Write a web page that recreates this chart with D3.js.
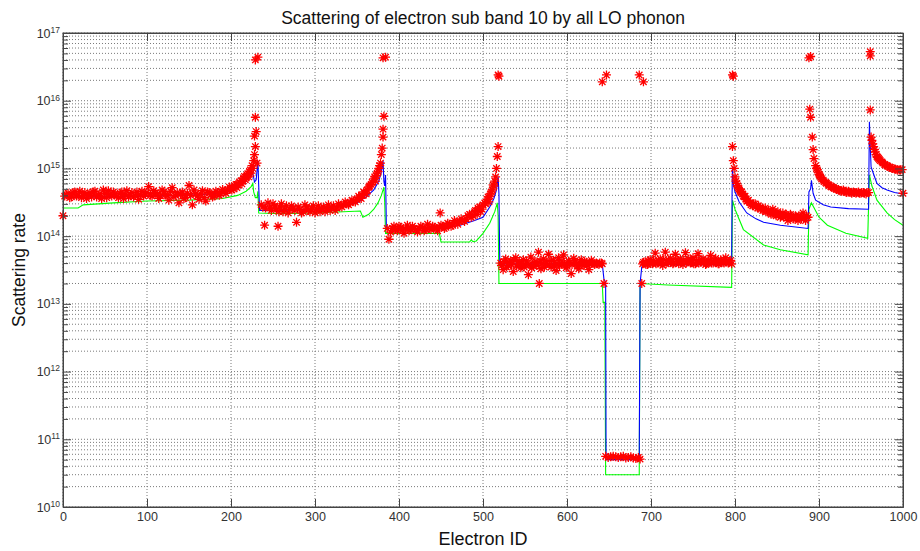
<!DOCTYPE html>
<html><head><meta charset="utf-8">
<script src="https://cdn.jsdelivr.net/npm/d3@7"></script>
<style>
body{margin:0;background:#fff;}
text{font-family:"Liberation Sans",Arial,sans-serif;}
</style>
</head><body>
<svg id="chart" width="920" height="551"></svg>
<script>
// ---------- data ----------
const chartTitle = "Scattering of electron sub band 10 by all LO phonon";
const xLabel = "Electron ID";
const yLabel = "Scattering rate";
const xTicks = [0,100,200,300,400,500,600,700,800,900,1000];
const yDecadeExps = [10,11,12,13,14,15,16,17];

// blue line: [electron ID, rate]
const blueLine = [[0,3.7e14],[40,3.8e14],[100,3.9e14],[150,4.0e14],[185,4.3e14],[200,4.8e14],[210,5.6e14],[218,6.6e14],[223,7.6e14],[226,8.5e14],[228,6.3e14],[230,6.8e14],[232,1.3e15],[233,5.5e14],[234,2.4e14],[260,2.4e14],[300,2.5e14],[330,2.8e14],[350,3.1e14],[362,3.9e14],[370,4.8e14],[376,6.5e14],[379,9e14],[381,1.3e15],[382,6.5e14],[383,5.5e14],[384,8e14],[385,1.3e14],[420,1.3e14],[450,1.35e14],[473,1.45e14],[490,1.7e14],[500,1.9e14],[508,2.7e14],[513,3.6e14],[516,4.8e14],[518,7.5e14],[519,4.2e14],[520,3.9e13],[600,3.9e13],[642,3.9e13],[644,2.3e13],[646,2.1e13],[646.5,5e10],[686,5e10],[687,2e13],[689,3.5e13],[700,3.8e13],[796,3.8e13],[796.5,4e14],[797,1.05e15],[798,6e14],[800,4.5e14],[805,3.2e14],[814,2.2e14],[825,1.8e14],[834,1.6e14],[854,1.45e14],[887,1.3e14],[888,4.5e14],[890,5e14],[891,6.7e14],[893,4.3e14],[896,3.4e14],[905,2.9e14],[914,2.7e14],[935,2.55e14],[959,2.5e14],[960,4.9e15],[961,2.2e15],[962,1.05e15],[966,7.6e14],[969,6e14],[975,5.2e14],[981,4.8e14],[990,4.4e14],[1000,4.2e14]];

// green line: [electron ID, rate]
const greenLine = [[0,2.6e14],[18,2.6e14],[24,2.9e14],[60,3.1e14],[100,3.3e14],[150,3.4e14],[190,3.6e14],[208,4.0e14],[218,4.6e14],[224,5.4e14],[226,6.0e14],[227,4.5e14],[229,3.7e14],[231,3.7e14],[232,4.6e14],[233,2.2e14],[260,2.15e14],[300,2.2e14],[354,2.35e14],[357,1.9e14],[364,2.1e14],[370,2.5e14],[375,3.1e14],[379,4.0e14],[382,5.3e14],[383,3.2e14],[384,1.1e14],[448,1.1e14],[450,8.2e13],[484,8.2e13],[486,8.8e13],[488,8.3e13],[492,8.5e13],[500,1.1e14],[508,1.55e14],[514,2.3e14],[517,3.1e14],[518,2.0e14],[519,2.0e13],[642,2.0e13],[643,1.05e13],[645,1.05e13],[646,3e10],[686,3e10],[687,2.0e13],[720,1.9e13],[796,1.75e13],[797,3.4e14],[800,2.5e14],[810,1.25e14],[834,7.4e13],[854,6.3e13],[887,5.3e13],[888,2.5e14],[891,3.1e14],[895,2.5e14],[900,1.9e14],[910,1.45e14],[932,1.1e14],[958,9.3e13],[960,8e14],[963,5.5e14],[969,3.4e14],[981,2.2e14],[990,1.75e14],[1000,1.45e14]];

// red star markers: [electron ID, rate]
const redPoints = [
[0,2.0e14],[2,3.9e14],[6,4.3e14],[10,3.8e14],[14,4.5e14],[18,4.0e14],[22,3.7e14],[26,4.4e14],[30,4.1e14],[34,3.8e14],[38,4.6e14],[42,4.0e14],[46,3.6e14],[50,4.3e14],[54,4.7e14],[58,3.9e14],[62,4.2e14],[66,3.7e14],[70,4.5e14],[74,4.1e14],[78,3.8e14],[82,4.4e14],[86,4.0e14],[90,3.5e14],[94,4.6e14],[98,4.2e14],[102,5.4e14],[106,3.9e14],[110,4.3e14],[114,3.6e14],[118,4.8e14],[122,4.1e14],[126,3.4e14],[130,5.2e14],[134,4.0e14],[138,3.1e14],[142,4.5e14],[146,3.7e14],[150,5.6e14],[154,2.9e14],[158,4.2e14],[162,3.5e14],[166,4.7e14],[170,3.3e14],[174,4.4e14],[178,3.8e14],[182,4.6e14],[186,4.0e14],[190,4.9e14],[194,4.3e14],[198,5.3e14],
[4,4.1e14],[8,3.7e14],[12,4.4e14],[16,3.9e14],[20,4.6e14],[24,4.0e14],[28,3.6e14],[32,4.3e14],[36,4.5e14],[40,3.8e14],[44,4.2e14],[48,4.8e14],[52,3.7e14],[56,4.1e14],[60,4.5e14],[64,3.9e14],[68,4.3e14],[72,3.6e14],[76,4.7e14],[80,4.0e14],[84,3.8e14],[88,4.5e14],[92,4.1e14],[96,3.9e14],[100,4.4e14],[104,4.0e14],[108,4.7e14],[112,4.2e14],[116,3.9e14],[120,4.5e14],[124,4.0e14],[128,4.6e14],[132,3.8e14],[136,4.4e14],[140,4.1e14],[144,3.6e14],[148,4.3e14],[152,4.0e14],[156,4.8e14],[160,3.9e14],[164,4.2e14],[168,3.7e14],[172,4.5e14],[176,4.1e14],[180,3.9e14],[184,4.4e14],[188,4.2e14],[192,4.6e14],[196,4.8e14],[200,5.1e14],[203,5.0e14],[206,5.8e14],[209,5.7e14],[212,6.6e14],[214,6.5e14],[216,7.6e14],[218,7.4e14],[220,8.4e14],[222,9.0e14],
[201,4.8e14],[204,5.6e14],[207,5.2e14],[210,6.3e14],[213,5.9e14],[215,7.2e14],[217,6.8e14],[219,8.0e14],[221,7.5e14],[223,9.5e14],[224,8.5e14],[225,1.1e15],[226,1.0e15],[227,1.3e15],[228,1.6e15],[228,3.0e15],[229,2.1e15],[229,5.7e15],[230,3.5e15],[231,1.2e15],[229,4.0e16],[232,4.4e16],
[236,2.9e14],[240,1.45e14],[241,2.6e14],[244,3.1e14],[248,2.4e14],[252,2.8e14],[256,1.4e14],[257,2.3e14],[260,3.0e14],[264,2.5e14],[268,2.2e14],[272,2.8e14],[276,2.4e14],[278,1.6e14],[280,2.7e14],[284,2.2e14],[288,2.9e14],[292,2.4e14],[296,2.6e14],[300,2.2e14],[304,2.8e14],[308,2.5e14],[312,2.3e14],[316,2.9e14],[320,2.6e14],[324,2.4e14],[328,3.0e14],[332,2.7e14],[336,3.2e14],[340,2.9e14],[344,3.4e14],[348,3.2e14],[352,3.9e14],[355,3.6e14],[358,4.5e14],[361,4.2e14],[364,5.3e14],[367,5.8e14],[370,7.0e14],[372,6.5e14],[374,8.5e14],[376,1.0e15],[378,1.2e15],[379,1.6e15],[380,2.0e15],[381,2.9e15],[381,3.8e15],[382,5.9e15],[381,4.3e16],[384,4.4e16],
[238,2.7e14],[246,2.6e14],[250,3.0e14],[254,2.5e14],[258,2.7e14],[262,2.3e14],[266,2.8e14],[270,2.5e14],[274,2.6e14],[282,2.5e14],[286,2.3e14],[290,2.7e14],[294,2.3e14],[298,2.8e14],[302,2.5e14],[306,2.3e14],[310,2.7e14],[314,2.6e14],[318,2.4e14],[322,2.8e14],[326,2.6e14],[330,2.8e14],[334,2.9e14],[338,3.0e14],[342,3.1e14],[346,3.3e14],[350,3.5e14],[353,3.7e14],[356,4.0e14],[359,4.3e14],[362,4.8e14],[365,5.5e14],[368,6.2e14],[371,7.5e14],[373,7.8e14],[375,9.0e14],[377,1.1e15],
[386,1.3e14],[388,9.0e13],[390,1.15e14],[394,1.4e14],[398,1.2e14],[402,1.35e14],[406,1.1e14],[410,1.45e14],[414,1.25e14],[418,1.3e14],[422,1.15e14],[426,1.4e14],[430,1.2e14],[434,1.5e14],[438,1.25e14],[442,1.35e14],[446,1.2e14],[449,2.2e14],[450,1.45e14],[454,1.3e14],[458,1.55e14],[462,1.4e14],[466,1.7e14],[470,1.5e14],[474,1.8e14],[478,1.65e14],[482,2.0e14],[486,1.9e14],[490,2.3e14],[493,2.1e14],[496,2.7e14],[499,2.5e14],[502,3.1e14],[505,3.5e14],[507,3.2e14],[509,4.2e14],[511,4.8e14],[512,5.7e14],[514,6.5e14],[515,7.5e14],[516,1.0e15],[517,1.5e15],[518,2.1e15],[518,2.4e16],[519,2.3e16],
[392,1.3e14],[396,1.25e14],[400,1.4e14],[404,1.2e14],[408,1.3e14],[412,1.2e14],[416,1.4e14],[420,1.25e14],[424,1.3e14],[428,1.35e14],[432,1.25e14],[436,1.3e14],[440,1.4e14],[444,1.3e14],[448,1.35e14],[452,1.4e14],[456,1.35e14],[460,1.5e14],[464,1.45e14],[468,1.6e14],[472,1.65e14],[476,1.7e14],[480,1.8e14],[484,2.1e14],[488,2.0e14],[491,2.4e14],[494,2.6e14],[497,2.3e14],[500,2.9e14],[503,3.0e14],[506,3.8e14],[508,3.9e14],[510,4.5e14],[513,5.5e14],
[521,4.0e13],[524,3.2e13],[527,4.6e13],[530,3.7e13],[533,4.3e13],[536,3.0e13],[539,4.8e13],[542,3.9e13],[545,3.4e13],[548,4.5e13],[551,3.8e13],[554,2.7e13],[557,4.9e13],[560,3.6e13],[563,4.2e13],[566,5.8e13],[567,2.0e13],[569,3.3e13],[572,4.6e13],[575,3.9e13],[578,5.4e13],[581,3.5e13],[584,4.4e13],[587,3.1e13],[590,4.8e13],[593,3.8e13],[596,5.3e13],[599,3.4e13],[602,4.3e13],[605,2.8e13],[608,4.7e13],[611,3.9e13],[614,3.3e13],[617,4.5e13],[620,3.7e13],[623,4.1e13],[626,3.2e13],[629,4.4e13],[632,3.9e13],[635,4.0e13],[638,3.8e13],[641,4.0e13],[644,2.0e13],[642,1.9e16],[647,2.4e16],
[522,3.7e13],[525,4.2e13],[528,3.5e13],[531,4.1e13],[534,3.8e13],[537,4.4e13],[540,3.6e13],[543,4.2e13],[546,3.9e13],[549,3.5e13],[552,4.3e13],[555,3.8e13],[558,3.4e13],[561,4.1e13],[564,3.7e13],[568,4.3e13],[570,3.9e13],[573,3.5e13],[576,4.2e13],[579,3.8e13],[582,4.4e13],[585,3.6e13],[588,4.0e13],[591,3.7e13],[594,4.3e13],[597,3.9e13],[600,3.6e13],[603,4.1e13],[606,3.8e13],[609,4.3e13],[612,3.6e13],[615,4.0e13],[618,3.9e13],[621,4.2e13],[624,3.7e13],[627,3.9e13],[630,4.1e13],[633,3.8e13],[636,3.9e13],[639,4.0e13],[642,3.9e13],
[646,5.6e10],[649,5.4e10],[652,5.5e10],[655,5.6e10],[658,5.5e10],[661,5.4e10],[664,5.5e10],[667,5.6e10],[670,5.3e10],[673,5.4e10],[676,5.5e10],[679,5.3e10],[682,5.2e10],[685,5.4e10],[687,5.1e10],[686,2.4e16],[691,1.9e16],[689,2.0e13],
[690,3.9e13],[693,4.2e13],[696,3.8e13],[699,4.5e13],[702,3.9e13],[705,5.6e13],[708,4.0e13],[711,4.6e13],[714,3.7e13],[717,5.8e13],[720,4.1e13],[723,4.7e13],[726,3.9e13],[729,5.4e13],[732,4.2e13],[735,4.6e13],[738,3.8e13],[741,5.7e13],[744,4.3e13],[747,4.0e13],[750,4.8e13],[753,3.9e13],[756,5.5e13],[759,4.1e13],[762,4.6e13],[765,3.8e13],[768,4.4e13],[771,5.2e13],[774,4.0e13],[777,4.7e13],[780,3.9e13],[783,4.5e13],[786,4.1e13],[789,4.8e13],[792,4.0e13],[795,4.4e13],
[691,4.1e13],[694,3.8e13],[697,4.3e13],[700,4.0e13],[703,4.4e13],[706,3.9e13],[709,4.3e13],[712,4.0e13],[715,4.5e13],[718,3.9e13],[721,4.4e13],[724,4.1e13],[727,4.0e13],[730,4.5e13],[733,3.9e13],[736,4.2e13],[739,4.4e13],[742,4.0e13],[745,4.6e13],[748,4.1e13],[751,3.9e13],[754,4.4e13],[757,4.0e13],[760,4.5e13],[763,4.1e13],[766,3.9e13],[769,4.3e13],[772,4.0e13],[775,4.4e13],[778,4.1e13],[781,3.9e13],[784,4.3e13],[787,4.0e13],[790,4.2e13],[793,4.1e13],[796,3.9e13],
[797,2.4e16],[798,2.3e16],[797,2.1e15],[798,1.3e15],[799,1.0e15],[800,7.5e14],[801,6.5e14],[803,5.5e14],[805,5.0e14],[807,4.4e14],[809,4.2e14],[811,3.8e14],[813,3.5e14],[815,3.3e14],[818,3.1e14],[821,2.8e14],[824,3.0e14],[827,2.6e14],[830,2.7e14],[833,2.4e14],[836,2.6e14],[839,2.3e14],[842,2.2e14],[845,2.5e14],[848,2.1e14],[851,2.3e14],[854,1.9e14],[857,2.2e14],[860,2.0e14],[863,1.7e14],[866,2.1e14],[869,1.8e14],[872,2.0e14],[875,1.7e14],[878,1.9e14],[881,2.2e14],[884,1.7e14],[887,1.9e14],
[802,6.0e14],[804,5.2e14],[806,4.6e14],[808,4.5e14],[810,3.9e14],[812,3.9e14],[814,3.3e14],[816,3.4e14],[819,2.9e14],[822,3.0e14],[825,2.7e14],[828,2.8e14],[831,2.5e14],[834,2.5e14],[837,2.3e14],[840,2.4e14],[843,2.1e14],[846,2.3e14],[849,2.0e14],[852,2.1e14],[855,2.0e14],[858,1.9e14],[861,2.1e14],[864,1.9e14],[867,2.0e14],[870,1.8e14],[873,1.9e14],[876,2.0e14],[879,1.8e14],[882,1.9e14],[885,2.0e14],
[888,4.3e16],[890,4.5e16],[889,7.5e15],[890,5.7e15],[892,2.9e15],[893,1.9e15],[894,1.4e15],[896,1.1e15],[898,9.5e14],[900,8.2e14],[902,7.4e14],[905,6.7e14],[908,6.2e14],[911,5.8e14],[914,5.4e14],[917,5.3e14],[920,5.0e14],[923,4.9e14],[926,4.7e14],[929,4.8e14],[932,4.5e14],[935,4.6e14],[938,4.4e14],[941,4.5e14],[944,4.3e14],[947,4.5e14],[950,4.3e14],[953,4.4e14],[956,4.2e14],[959,4.4e14],
[897,1.0e15],[899,8.8e14],[901,7.8e14],[903,7.0e14],[906,6.4e14],[909,6.0e14],[912,5.6e14],[915,5.3e14],[918,5.1e14],[921,4.9e14],[924,4.7e14],[927,4.6e14],[930,4.6e14],[933,4.4e14],[936,4.5e14],[939,4.3e14],[942,4.4e14],[945,4.4e14],[948,4.3e14],[951,4.4e14],[954,4.3e14],[957,4.4e14],
[961,4.6e16],[961,5.3e16],[961,7.3e15],[962,2.9e15],[964,2.3e15],[966,1.9e15],[968,1.6e15],[970,1.45e15],[972,1.35e15],[975,1.25e15],[978,1.15e15],[981,1.1e15],[984,1.05e15],[987,1.0e15],[990,9.8e14],[993,9.6e14],[996,9.5e14],[999,9.6e14],[1000,4.3e14],
[963,2.6e15],[965,2.1e15],[967,1.75e15],[969,1.5e15],[971,1.4e15],[973,1.3e15],[976,1.2e15],[979,1.12e15],[982,1.07e15],[985,1.03e15],[988,1.0e15],[991,9.7e14],[994,9.5e14],[997,9.6e14]
];

// ---------- drawing ----------
const svg = d3.select("#chart");
const L = 63, R = 903, T = 33, B = 507;
const x = d3.scaleLinear().domain([0, 1000]).range([L, R]);
const y = d3.scaleLog().domain([1e10, 1e17]).range([B, T]);

const decades = yDecadeExps.map(e => Math.pow(10, e));
const minors = [];
decades.slice(0, -1).forEach(d => { for (let k = 2; k <= 9; k++) minors.push(d * k); });

const gridColor = "#7a7a7a";
const grid = svg.append("g");
grid.selectAll("line.yg").data(decades.concat(minors)).join("line")
  .attr("x1", L).attr("x2", R)
  .attr("y1", d => y(d)).attr("y2", d => y(d))
  .attr("stroke", gridColor).attr("stroke-width", 1).attr("stroke-dasharray", "1,2");
grid.selectAll("line.xg").data(xTicks).join("line")
  .attr("x1", d => x(d)).attr("x2", d => x(d))
  .attr("y1", T).attr("y2", B)
  .attr("stroke", gridColor).attr("stroke-width", 1).attr("stroke-dasharray", "1,2");

// lines
const line = d3.line().x(d => x(d[0])).y(d => y(d[1]));
svg.append("path").datum(greenLine).attr("d", line)
  .attr("fill", "none").attr("stroke", "#00ff00").attr("stroke-width", 1.1);
svg.append("path").datum(blueLine).attr("d", line)
  .attr("fill", "none").attr("stroke", "#0000ff").attr("stroke-width", 1.1);

// red '*' markers
const star = "M-4.5,0H4.5M0,-4.5V4.5M-3.2,-3.2L3.2,3.2M-3.2,3.2L3.2,-3.2";
svg.append("g").selectAll("path").data(redPoints).join("path")
  .attr("transform", d => `translate(${x(d[0])},${y(d[1])})`)
  .attr("d", star).attr("fill", "none").attr("stroke", "#ff0000").attr("stroke-width", 1.3);

// axes
const axisColor = "#444";
const gL = svg.append("g").attr("transform", `translate(${L},0)`)
  .call(d3.axisLeft(y).tickValues(decades).tickSize(-8).tickSizeOuter(0).tickPadding(3).tickFormat(d => "10"));
gL.selectAll(".tick text").each(function(d){
  d3.select(this).append("tspan").attr("dy", "-0.55em").attr("font-size", "8.5px").text(Math.round(Math.log10(d)));
}).attr("font-size", "12.5px").attr("fill", "#333");
svg.append("g").attr("transform", `translate(${L},0)`)
  .call(d3.axisLeft(y).tickValues(minors).tickSize(-5).tickSizeOuter(0).tickFormat(""));
svg.append("g").attr("transform", `translate(${R},0)`)
  .call(d3.axisRight(y).tickValues(decades).tickSize(-8).tickSizeOuter(0).tickFormat(""));
svg.append("g").attr("transform", `translate(${R},0)`)
  .call(d3.axisRight(y).tickValues(minors).tickSize(-5).tickSizeOuter(0).tickFormat(""));
const gB = svg.append("g").attr("transform", `translate(0,${B})`)
  .call(d3.axisBottom(x).tickValues(xTicks).tickSize(-8).tickSizeOuter(0).tickPadding(5).tickFormat(d3.format("d")));
gB.selectAll(".tick text").attr("font-size", "12.5px").attr("fill", "#333");
svg.append("g").attr("transform", `translate(0,${T})`)
  .call(d3.axisTop(x).tickValues(xTicks).tickSize(-8).tickSizeOuter(0).tickFormat(""));
svg.selectAll(".domain").attr("stroke", axisColor);
svg.selectAll(".tick line").attr("stroke", axisColor);
svg.selectAll(".tick text").attr("font-family", "'Liberation Sans', Arial, sans-serif");

// box
svg.append("rect").attr("x", L).attr("y", T).attr("width", R - L).attr("height", B - T)
  .attr("fill", "none").attr("stroke", axisColor).attr("stroke-width", 1);

// labels
svg.append("text").attr("x", (L + R) / 2).attr("y", 24).attr("text-anchor", "middle")
  .attr("font-size", "17.5px").attr("fill", "#111").text(chartTitle);
svg.append("text").attr("x", (L + R) / 2).attr("y", 545).attr("text-anchor", "middle")
  .attr("font-size", "18px").attr("fill", "#111").text(xLabel);
svg.append("text").attr("transform", `translate(25,${(T + B) / 2}) rotate(-90)`).attr("text-anchor", "middle")
  .attr("font-size", "17.5px").attr("fill", "#111").text(yLabel);
</script>
</body></html>
